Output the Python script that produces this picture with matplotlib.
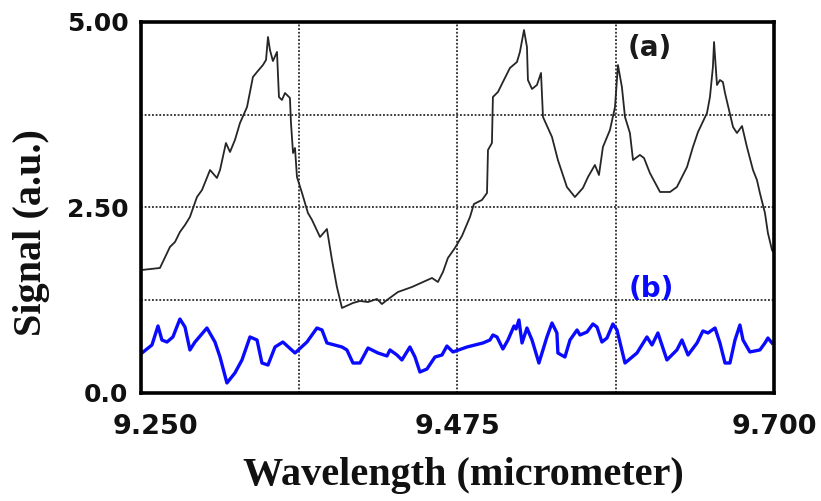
import matplotlib
matplotlib.use("Agg")
import matplotlib.pyplot as plt
import matplotlib.transforms as mtransforms
import numpy as np

# ---- data ----
wl_a = [9.2507, 9.2635, 9.2706, 9.2742, 9.2777, 9.2813, 9.2848, 9.2898, 9.2934, 9.2991,
        9.3040, 9.3062, 9.3104, 9.3133, 9.3168, 9.3204, 9.3254, 9.3296, 9.3325, 9.3367,
        9.3389, 9.3403, 9.3417, 9.3438, 9.3467, 9.3481, 9.3502, 9.3524, 9.3559, 9.3566,
        9.3581, 9.3595, 9.3609, 9.3645, 9.3687, 9.3716, 9.3773, 9.3822, 9.3858, 9.3893,
        9.3929, 9.4007, 9.4057, 9.4114, 9.4178, 9.4213, 9.4249, 9.4327, 9.4427, 9.4569,
        9.4611, 9.4647, 9.4682, 9.4732, 9.4782, 9.4839, 9.4867, 9.4924, 9.4960, 9.4967,
        9.4995, 9.5002, 9.5038, 9.5073, 9.5123, 9.5173, 9.5194, 9.5223, 9.5244, 9.5251,
        9.5280, 9.5315, 9.5344, 9.5358, 9.5422, 9.5464, 9.5528, 9.5585, 9.5642, 9.5678,
        9.5727, 9.5756, 9.5784, 9.5834, 9.5870, 9.5891, 9.5919, 9.5941, 9.5976, 9.5998,
        9.6047, 9.6076, 9.6118, 9.6190, 9.6261, 9.6310, 9.6382, 9.6424, 9.6460, 9.6524,
        9.6545, 9.6566, 9.6574, 9.6595, 9.6616, 9.6637, 9.6652, 9.6709, 9.6737, 9.6773,
        9.6808, 9.6851, 9.6879, 9.6900, 9.6936, 9.6957, 9.6986, 9.7000]
sig_a = [1.658, 1.685, 1.968, 2.035, 2.170, 2.264, 2.372, 2.641, 2.736, 3.005,
         2.898, 3.005, 3.369, 3.248, 3.410, 3.639, 3.854, 4.259, 4.326, 4.420,
         4.488, 4.798, 4.623, 4.474, 4.596, 3.989, 3.949, 4.043, 3.976, 3.652,
         3.234, 3.302, 2.911, 2.695, 2.426, 2.332, 2.102, 2.210, 1.792, 1.429,
         1.146, 1.213, 1.240, 1.226, 1.267, 1.199, 1.253, 1.361, 1.429, 1.550,
         1.496, 1.631, 1.819, 1.954, 2.116, 2.372, 2.547, 2.601, 2.695, 3.275,
         3.369, 3.989, 4.057, 4.191, 4.380, 4.461, 4.596, 4.892, 4.663, 4.218,
         4.097, 4.151, 4.313, 3.720, 3.450, 3.140, 2.776, 2.641, 2.763, 2.911,
         3.073, 2.938, 3.315, 3.544, 3.854, 4.420, 4.124, 3.720, 3.504, 3.140,
         3.208, 3.167, 2.965, 2.709, 2.709, 2.776, 3.046, 3.315, 3.517, 3.774,
         3.989, 4.394, 4.730, 4.151, 4.218, 4.191, 4.043, 3.585, 3.504, 3.598,
         3.315, 3.005, 2.871, 2.695, 2.426, 2.156, 1.927, 1.887]

wl_b = [9.2507, 9.2578, 9.2621, 9.2649, 9.2685, 9.2727, 9.2777, 9.2813, 9.2848, 9.2884,
        9.2969, 9.3026, 9.3062, 9.3111, 9.3168, 9.3218, 9.3275, 9.3325, 9.3360, 9.3403,
        9.3453, 9.3509, 9.3595, 9.3680, 9.3751, 9.3787, 9.3822, 9.3929, 9.3964, 9.4007,
        9.4057, 9.4114, 9.4185, 9.4249, 9.4270, 9.4320, 9.4355, 9.4412, 9.4448, 9.4483,
        9.4533, 9.4590, 9.4640, 9.4675, 9.4718, 9.4818, 9.4931, 9.4981, 9.5002, 9.5031,
        9.5073, 9.5109, 9.5152, 9.5166, 9.5187, 9.5209, 9.5244, 9.5280, 9.5329, 9.5386,
        9.5422, 9.5457, 9.5464, 9.5514, 9.5550, 9.5600, 9.5621, 9.5671, 9.5713, 9.5742,
        9.5777, 9.5813, 9.5855, 9.5884, 9.5941, 9.6026, 9.6097, 9.6133, 9.6175, 9.6239,
        9.6310, 9.6346, 9.6389, 9.6453, 9.6495, 9.6531, 9.6581, 9.6616, 9.6652, 9.6687,
        9.6723, 9.6758, 9.6780, 9.6829, 9.6900, 9.6936, 9.6957, 9.6986]
sig_b = [0.539, 0.647, 0.903, 0.714, 0.687, 0.755, 0.997, 0.889, 0.580, 0.687,
         0.876, 0.687, 0.485, 0.135, 0.270, 0.445, 0.755, 0.714, 0.404, 0.377,
         0.620, 0.687, 0.539, 0.687, 0.876, 0.849, 0.674, 0.620, 0.580, 0.404,
         0.404, 0.606, 0.539, 0.499, 0.580, 0.512, 0.445, 0.620, 0.485, 0.283,
         0.323, 0.485, 0.512, 0.633, 0.553, 0.620, 0.674, 0.714, 0.782, 0.755,
         0.593, 0.714, 0.903, 0.863, 0.984, 0.674, 0.876, 0.714, 0.404, 0.755,
         0.943, 0.809, 0.539, 0.485, 0.714, 0.849, 0.782, 0.822, 0.930, 0.889,
         0.687, 0.741, 0.930, 0.849, 0.404, 0.539, 0.755, 0.647, 0.809, 0.445,
         0.580, 0.714, 0.512, 0.674, 0.836, 0.809, 0.876, 0.674, 0.404, 0.404,
         0.714, 0.916, 0.714, 0.553, 0.580, 0.674, 0.741, 0.674]

x_ticks = [9.250, 9.475, 9.700]
x_ticklabels = ["9.250", "9.475", "9.700"]
x_grid = [9.3625, 9.475, 9.5875]
y_ticks = [0.0, 2.5, 5.0]
y_ticklabels = ["0.0", "2.50", "5.00"]
y_grid = [1.25, 2.5, 3.75]

# ---- figure ----
fig = plt.figure(figsize=(8.21, 5.01), dpi=100)
ax = fig.add_axes([0.1717, 0.2156, 0.7710, 0.7405])

ax.plot(wl_a, sig_a, color="#262626", lw=1.3, zorder=3, solid_joinstyle="round")
ax.plot(wl_b, sig_b, color="#0a0aff", lw=2.4, zorder=3, solid_joinstyle="round")

ax.set_xlim(9.25, 9.70)
ax.set_ylim(0, 5)

for g in x_grid:
    ax.axvline(g, color="#1a1a1a", lw=1.2, ls=(0, (1.1, 1.1)), zorder=1)
for g in y_grid:
    ax.axhline(g, color="#1a1a1a", lw=1.2, ls=(0, (1.1, 1.1)), zorder=1)

for s in ax.spines.values():
    s.set_linewidth(2.6)
    s.set_color("black")
    s.set_zorder(4)

ax.set_xticks(x_ticks)
ax.set_xticklabels(x_ticklabels, fontsize=19.5, fontweight="bold",
                   family="DejaVu Sans", color="#111111")
ax.set_yticks(y_ticks)
ax.set_yticklabels(y_ticklabels, fontsize=18, fontweight="bold",
                   family="DejaVu Sans", color="#111111")
ax.tick_params(axis="both", length=0)
ax.tick_params(axis="x", pad=15)
ax.tick_params(axis="y", pad=9)

# nudge the first x tick label to the right as in the reference
lab0 = ax.get_xticklabels()[0]
lab0.set_transform(lab0.get_transform() +
                   mtransforms.ScaledTranslation(14 / 100, 0, fig.dpi_scale_trans))

ax.text(0.804, 0.930, "(a)", transform=ax.transAxes, ha="center", va="center",
        fontsize=20, fontweight="bold", color="#1a1a1a", family="DejaVu Sans")
ax.text(0.806, 0.280, "(b)", transform=ax.transAxes, ha="center", va="center",
        fontsize=20, fontweight="bold", color="#0a0aff", family="DejaVu Sans")

fig.text(0.038, 0.535, "Signal (a.u.)", rotation=90, ha="center", va="center",
         fontsize=29, fontweight="bold", family="Liberation Serif", color="#111111")
fig.text(0.564, 0.05, "Wavelength (micrometer)", ha="center", va="center",
         fontsize=29, fontweight="bold", family="Liberation Serif", color="#111111")

fig.savefig("out.png", dpi=100)
